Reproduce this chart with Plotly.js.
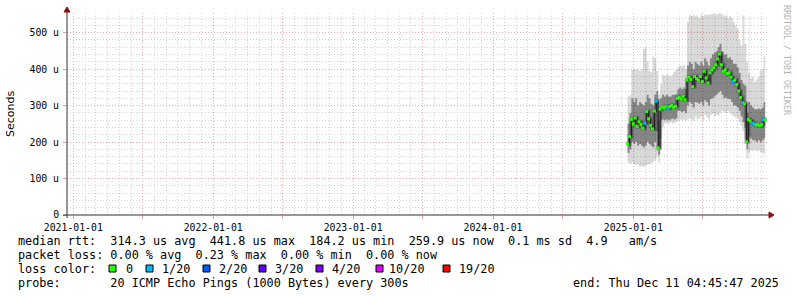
<!DOCTYPE html>
<html><head><meta charset="utf-8">
<script src="https://cdn.plot.ly/plotly-3.0.1.min.js"></script>
<style>html,body{margin:0;padding:0;background:#fff}#chart{width:797px;height:297px}</style>
</head><body><div id="chart"></div>
<script>
// ---- data (µs) ----
const dates = ["2024-12-17","2024-12-22","2024-12-27","2025-01-01","2025-01-06","2025-01-11","2025-01-16","2025-01-21","2025-01-26","2025-01-31",
"2025-02-05","2025-02-10","2025-02-15","2025-02-20","2025-02-25","2025-03-02","2025-03-07","2025-03-12","2025-03-17","2025-03-22",
"2025-03-27","2025-04-01","2025-04-06","2025-04-11","2025-04-16","2025-04-21","2025-04-26","2025-05-01","2025-05-06","2025-05-11",
"2025-05-16","2025-05-21","2025-05-26","2025-05-31","2025-06-05","2025-06-10","2025-06-15","2025-06-20","2025-06-25","2025-06-30",
"2025-07-05","2025-07-10","2025-07-15","2025-07-20","2025-07-25","2025-07-30","2025-08-04","2025-08-09","2025-08-14","2025-08-19",
"2025-08-24","2025-08-29","2025-09-03","2025-09-08","2025-09-13","2025-09-18","2025-09-23","2025-09-28","2025-10-03","2025-10-08",
"2025-10-13","2025-10-18","2025-10-23","2025-10-28","2025-11-02","2025-11-07","2025-11-12","2025-11-17","2025-11-22","2025-11-27",
"2025-12-02","2025-12-07","2025-12-11"];
const median = [195,215,262,250,266,243,256,248,238,252, 284,264,246,236,285,312,184.2,290,297,294,
298,293,297,300,296,298,320,322,318,325, 316,370,378,372,352,380,374,370,380,366,
394,376,362,390,398,404,412,428,441.8,412, 394,398,388,390,378,366,370,358,340,322,
308,305,201,262,258,252,250,247,249,245, 248,262,259.9];
const smokeMax = [325,330,398,400,398,400,395,400,455,460, 420,395,392,435,430,395,330,360,385,382,
385,383,380,385,392,398,405,410,408,412, 400,530,548,545,550,545,548,540,550,545,
550,548,550,550,552,552,550,552,553,550, 545,548,540,545,540,530,520,510,480,465,
548,470,420,390,375,380,365,372,380,395, 400,435,420];
const smokeHi = [250,280,320,310,320,300,310,305,300,310, 330,320,305,300,330,340,260,320,330,325,
330,325,325,330,330,332,345,350,345,350, 345,410,420,415,400,420,415,410,420,410,
430,420,410,430,440,445,450,460,470,450, 440,440,430,432,425,415,415,405,390,370,
360,355,280,310,300,295,290,290,292,290, 295,310,305];
const smokeLo = [170,180,200,195,200,190,195,190,185,190, 200,195,190,185,200,230,165,260,262,260,
262,260,262,265,262,265,285,285,282,285, 280,300,310,305,295,310,308,305,310,300,
315,310,300,318,320,325,330,335,340,330, 320,322,318,318,310,300,300,295,285,270,
255,240,180,215,210,205,205,200,205,200, 205,210,210];
const smokeMin = [143,140,145,140,138,140,132,135,132,135, 138,140,142,145,150,160,145,210,240,250,
252,250,255,250,253,255,258,262,260,262, 258,262,265,262,258,270,262,265,270,260,
275,268,262,275,278,270,275,272,280,285, 282,280,285,280,275,270,268,265,255,245,
230,210,155,170,178,175,178,175,178,172, 170,165,175];
const loss = [0,0,0,0,0,0,0,0,0,1, 0,0,0,0,0,1,0,0,0,0, 0,1,0,0,0,0,0,0,0,0, 0,0,0,0,0,0,0,0,0,0,
0,0,0,0,0,0,0,0,0,0, 0,0,0,0,0,1,0,0,0,0, 1,0,0,0,0,1,1,0,0,0, 0,1,0];

const lossLevels = [0,1,2,3,4,10,19];
const lossLabels = ["0","1/20","2/20","3/20","4/20","10/20","19/20"];
const lossColors = ["#26ff00","#00b8ff","#0059ff","#5e00ff","#7e00ff","#dd00ff","#ff0000"];

const yTickVals = [0,100,200,300,400,500];
const yTickText = ["0","100 u","200 u","300 u","400 u","500 u"];
const xTickVals = ["2021-01-01","2021-07-01","2022-01-01","2022-07-01","2023-01-01","2023-07-01","2024-01-01","2024-07-01","2025-01-01","2025-07-01"];
const xTickText = ["2021-01-01","","2022-01-01","","2023-01-01","","2024-01-01","","2025-01-01",""];

const legendLines = [
 "median rtt:  314.3 us avg  441.8 us max  184.2 us min  259.9 us now  0.1 ms sd  4.9   am/s",
 "packet loss: 0.00 % avg  0.23 % max  0.00 % min  0.00 % now",
 "loss color:",
 "probe:       20 ICMP Echo Pings (1000 Bytes) every 300s"
];
const endText = "end: Thu Dec 11 04:45:47 2025";

// ---- geometry helpers ----
const L = 67, T = 13, W = 700, H = 202;
const px = v => (v - L) / W;
const py = v => (T + H - v) / H;
const nb = s => s.replace(/ /g, "\u00a0");

const colorOf = l => lossColors[lossLevels.indexOf(l)];

const traces = [
 {x: dates, y: smokeMin, mode: "lines", line: {width: 0, shape: "hv"}, hoverinfo: "skip", showlegend: false},
 {x: dates, y: smokeMax, mode: "lines", line: {width: 0, shape: "hv"}, fill: "tonexty", fillcolor: "rgba(0,0,0,0.15)", hoverinfo: "skip", showlegend: false},
 {x: dates, y: smokeLo, mode: "lines", line: {width: 0, shape: "hv"}, hoverinfo: "skip", showlegend: false},
 {x: dates, y: smokeHi, mode: "lines", line: {width: 0, shape: "hv"}, fill: "tonexty", fillcolor: "rgba(0,0,0,0.38)", hoverinfo: "skip", showlegend: false},
 {x: dates, y: median, mode: "lines", line: {width: 4, shape: "hv", color: "rgba(0,0,0,0.30)"}, hoverinfo: "skip", showlegend: false},
 {x: dates, y: median, mode: "lines", line: {width: 1.2, shape: "hv", color: "#202020"}, hoverinfo: "skip", showlegend: false},
 {x: dates, y: median, mode: "markers", marker: {symbol: "square", size: 3, color: loss.map(colorOf), line: {width: 0}}, showlegend: false}
];

const mono = "DejaVu Sans Mono, monospace";
const annotations = [];
const legY = [241, 255, 269, 283];
legendLines.forEach((t, i) => annotations.push({xref: "paper", yref: "paper", x: px(16), y: py(legY[i]), xanchor: "left", yanchor: "middle", showarrow: false, text: nb(t), font: {family: mono, size: 11.8, color: "#000"}}));
annotations.push({xref: "paper", yref: "paper", x: px(781), y: py(283), xanchor: "right", yanchor: "middle", showarrow: false, text: nb(endText), font: {family: mono, size: 11.8, color: "#000"}});
annotations.push({xref: "paper", yref: "paper", x: px(10), y: py(114), xanchor: "center", yanchor: "middle", showarrow: false, textangle: -90, text: "Seconds", font: {family: "DejaVu Sans, sans-serif", size: 11, color: "#000"}});
annotations.push({xref: "paper", yref: "paper", x: px(787), y: py(60), xanchor: "center", yanchor: "middle", showarrow: false, textangle: 90, text: nb("RRDTOOL / TOBI OETIKER"), font: {family: mono, size: 8.3, color: "#b4b4b4"}});

const sqLeft = [109, 146, 203, 259, 316, 376, 443];
const labLeft = [124, 160, 217, 273, 330, 387, 457];
const shapes = [];
lossLabels.forEach((lab, i) => {
  shapes.push({type: "rect", xref: "paper", yref: "paper", x0: px(sqLeft[i]), x1: px(sqLeft[i] + 7), y0: py(272), y1: py(265), fillcolor: lossColors[i], line: {color: "#000", width: 1}});
  annotations.push({xref: "paper", yref: "paper", x: px(labLeft[i]), y: py(269), xanchor: "left", yanchor: "middle", showarrow: false, text: lab, font: {family: mono, size: 11.8, color: "#000"}});
});
// axis lines with arrows
shapes.push({type: "line", xref: "paper", yref: "paper", x0: px(63), x1: px(771), y0: py(215), y1: py(215), line: {color: "#303030", width: 1}});
shapes.push({type: "line", xref: "paper", yref: "paper", x0: px(67), x1: px(67), y0: py(218), y1: py(10), line: {color: "#303030", width: 1}});
shapes.push({type: "path", xref: "paper", yref: "paper", path: `M${px(769)},${py(212)} L${px(774)},${py(215)} L${px(769)},${py(218)} Z`, fillcolor: "#8b1010", line: {color: "#8b1010", width: 1}});
shapes.push({type: "path", xref: "paper", yref: "paper", path: `M${px(64)},${py(12)} L${px(67)},${py(7)} L${px(70)},${py(12)} Z`, fillcolor: "#8b1010", line: {color: "#8b1010", width: 1}});

const layout = {
  width: 797, height: 297,
  margin: {l: L, r: 797 - L - W, t: T, b: 297 - T - H, pad: 0},
  paper_bgcolor: "#fff", plot_bgcolor: "#fff",
  showlegend: false,
  xaxis: {
    type: "date", range: ["2020-12-15 14:00", "2025-12-15 19:00"],
    tickmode: "array", tickvals: xTickVals, ticktext: xTickText,
    ticks: "outside", ticklen: 3, tickcolor: "#e0a0a0",
    showgrid: true, gridcolor: "#e6a8a8", griddash: "1px,2px", gridwidth: 1,
    minor: {tickmode: "linear", tick0: "2021-01-01", dtick: "M1", showgrid: true, gridcolor: "#d4d4d4", griddash: "1px,2px", ticks: "", ticklen: 0},
    showline: false, zeroline: false,
    tickfont: {family: mono, size: 9.8, color: "#000"}, fixedrange: true
  },
  yaxis: {
    range: [0, 554], tickmode: "array", tickvals: yTickVals, ticktext: yTickText,
    ticks: "outside", ticklen: 3, tickcolor: "#e0a0a0",
    showgrid: true, gridcolor: "#e6a8a8", griddash: "1px,2px", gridwidth: 1,
    minor: {tickmode: "linear", tick0: 0, dtick: 20, showgrid: true, gridcolor: "#d4d4d4", griddash: "1px,2px"},
    showline: false, zeroline: false, ticklabelstandoff: 2,
    tickfont: {family: mono, size: 9.8, color: "#000"}, fixedrange: true
  },
  annotations: annotations,
  shapes: shapes
};

Plotly.newPlot("chart", traces, layout, {staticPlot: true, displayModeBar: false});
</script></body></html>
